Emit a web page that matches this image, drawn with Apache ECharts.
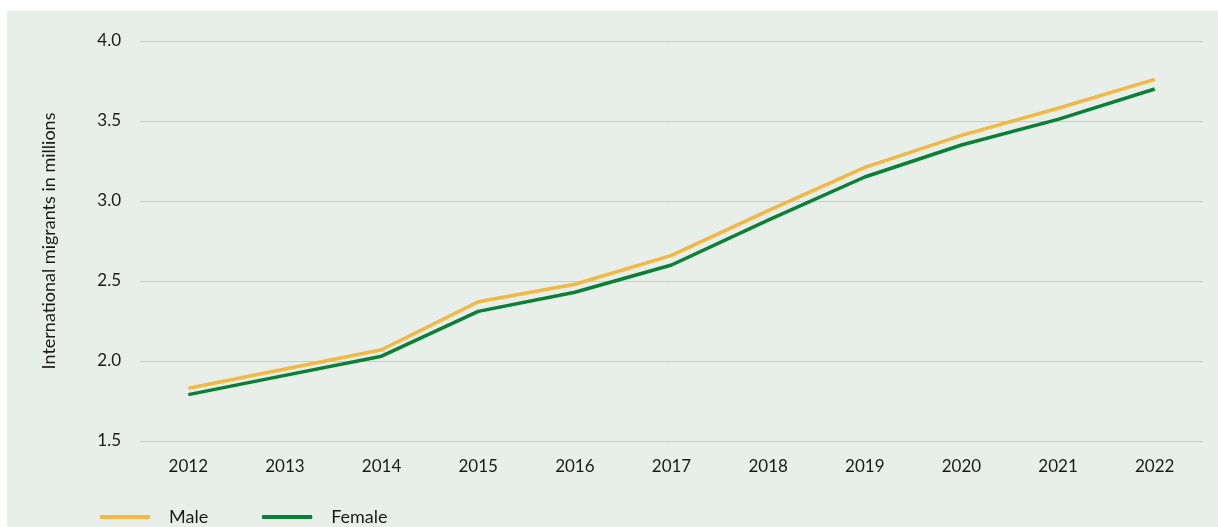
<!DOCTYPE html>
<html>
<head>
<meta charset="utf-8">
<script src="https://cdn.jsdelivr.net/npm/echarts@6/dist/echarts.min.js"></script>
<style>
  html, body { margin: 0; padding: 0; background: #fff; }
  #panel { position: absolute; left: 7px; top: 11px; width: 1211px; height: 516px; background: #e8efe9; }
  #main { position: absolute; left: 0; top: 0; width: 1218px; height: 527px; }
</style>
</head>
<body>
<div id="panel"></div>
<div id="main"></div>
<script>
// years on the x axis
const years = ['2012', '2013', '2014', '2015', '2016', '2017', '2018', '2019', '2020', '2021', '2022'];
// international migrants in millions
const male = [1.83, 1.95, 2.07, 2.37, 2.48, 2.66, 2.94, 3.21, 3.41, 3.58, 3.76];
const female = [1.79, 1.91, 2.03, 2.31, 2.43, 2.60, 2.88, 3.15, 3.35, 3.51, 3.70];

const chart = echarts.init(document.getElementById('main'));

const font = 'Lato, "Open Sans", sans-serif';

chart.setOption({
  backgroundColor: 'transparent',
  textStyle: { fontFamily: font },
  grid: { left: 140, right: 15, top: 41, bottom: 86 },
  legend: {
    left: 95,
    top: 503,
    itemWidth: 50,
    itemHeight: 4,
    itemGap: 54,
    icon: 'rect',
    textStyle: { fontFamily: font, fontSize: 18, color: '#1a1a1a', padding: [0, 0, 0, 14] },
    data: ['Male', 'Female']
  },
  xAxis: {
    type: 'category',
    data: years,
    boundaryGap: true,
    axisLine: { show: false },
    axisTick: { show: false },
    axisLabel: { color: '#1a1a1a', fontSize: 17, margin: 17, fontFamily: font }
  },
  yAxis: {
    type: 'value',
    min: 1.5,
    max: 4.0,
    interval: 0.5,
    name: 'International migrants in millions',
    nameLocation: 'middle',
    nameGap: 82,
    nameTextStyle: { color: '#1a1a1a', fontSize: 18, fontFamily: font },
    axisLabel: {
      color: '#1a1a1a', fontSize: 17, margin: 19, fontFamily: font,
      formatter: v => v.toFixed(1)
    },
    splitLine: { lineStyle: { color: '#c6cbc6', width: 1 } }
  },
  series: [
    {
      name: 'Male',
      type: 'line',
      data: male,
      symbol: 'none',
      color: '#f2b843',
      lineStyle: { width: 3.5, color: '#f2b843' }
    },
    {
      name: 'Female',
      type: 'line',
      data: female,
      symbol: 'none',
      color: '#0b7f35',
      lineStyle: { width: 3.5, color: '#0b7f35' }
    }
  ]
});
</script>
</body>
</html>
